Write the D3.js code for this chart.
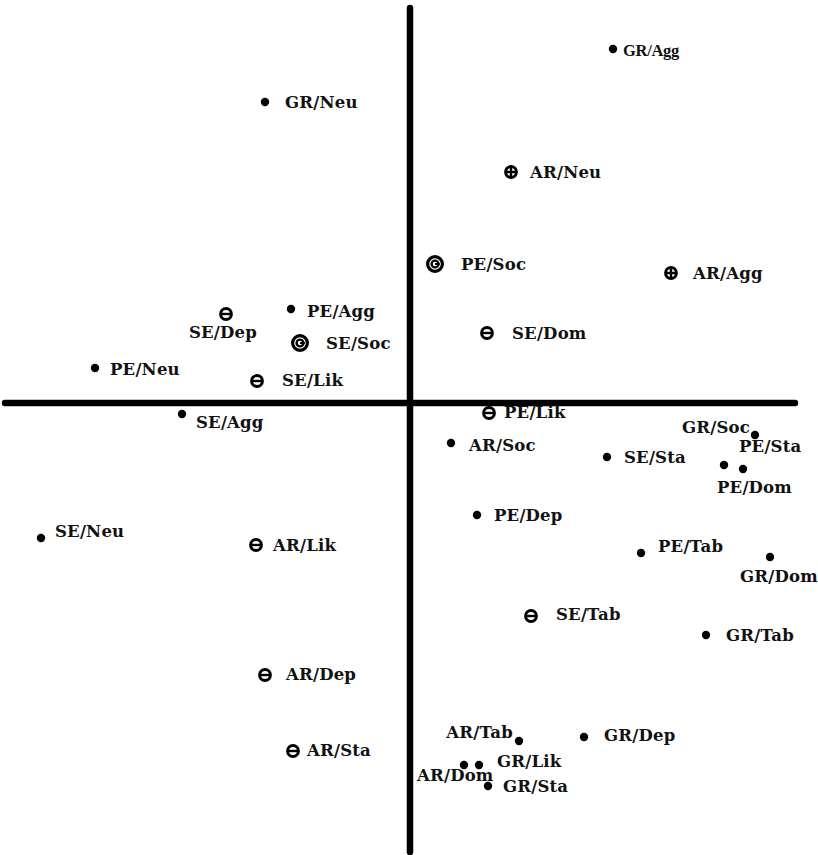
<!DOCTYPE html>
<html>
<head>
<meta charset="utf-8">
<script src="https://cdn.jsdelivr.net/npm/d3@7"></script>
<style>
  html, body { margin: 0; padding: 0; background: #fff; }
  svg { display: block; }
  text { font-family: "DejaVu Serif", "Liberation Serif", serif; font-weight: bold; fill: #111; }
</style>
</head>
<body>
<svg id="chart" width="818" height="855"></svg>
<script>
// ---- data ----
const names = ["GR/Agg","GR/Neu","AR/Neu","PE/Soc","AR/Agg","SE/Dep","PE/Agg","SE/Soc","SE/Dom","PE/Neu",
  "SE/Lik","SE/Agg","PE/Lik","AR/Soc","SE/Sta","GR/Soc","PE/Sta","PE/Dom","PE/Dep","PE/Tab",
  "GR/Dom","SE/Neu","AR/Lik","SE/Tab","GR/Tab","AR/Dep","GR/Dep","AR/Tab","AR/Sta","GR/Lik",
  "AR/Dom","GR/Sta"];
const xValues = [50.75,-36.25,25.25,6.25,65.25,-46,-29.75,-27.5,19.25,-78.75,
  -38.25,-57,19.75,10.25,49.25,86.25,83.25,78.5,16.75,57.75,
  90,-92.25,-38.5,30.25,74,-36.25,43.5,27.25,-29.25,17.25,
  13.5,19.5];
const yValues = [88.5,75.25,57.75,34.75,32.5,22.25,23.5,15,17.5,8.75,
  5.5,-2.75,-2.5,-10,-13.5,-8,-16.5,-15.5,-28,-37.5,
  -38.5,-33.75,-35.5,-53.25,-58,-68,-83.5,-84.5,-87,-90.5,
  -90.5,-95.75];
// marker kind: dot, minus (circled minus), plus (circled plus), ring (double circle)
const kinds = ["dot","dot","plus","ring","plus","minus","dot","ring","minus","dot",
  "minus","dot","minus","dot","dot","dot","dot","dot","dot","dot",
  "dot","dot","minus","minus","dot","minus","dot","dot","minus","dot",
  "dot","dot"];
const xAxisExtent = [-101.25, 96.25];
const yAxisExtent = [-112.25, 98.75];

// ---- label placement (px offsets from marker), kept separate from data ----
const labelPlace = {
  "GR/Agg": [10, 1, "start"], "GR/Neu": [20, 0, "start"], "AR/Neu": [19, 0, "start"],
  "PE/Soc": [26, 0, "start"], "AR/Agg": [22, 0, "start"], "SE/Dep": [-3, 18, "middle"],
  "PE/Agg": [16, 2, "start"], "SE/Soc": [26, 0, "start"], "SE/Dom": [25, 0, "start"],
  "PE/Neu": [15, 1, "start"], "SE/Lik": [25, -1, "start"], "SE/Agg": [14, 8, "start"],
  "PE/Lik": [15, -1, "start"], "AR/Soc": [18, 2, "start"], "SE/Sta": [17, 0, "start"],
  "GR/Soc": [-5, -8, "end"], "PE/Sta": [-4, -23, "start"], "PE/Dom": [-7, 22, "start"],
  "PE/Dep": [17, 0, "start"], "PE/Tab": [17, -7, "start"], "GR/Dom": [-30, 19, "start"],
  "SE/Neu": [14, -7, "start"], "AR/Lik": [17, 0, "start"], "SE/Tab": [25, -2, "start"],
  "GR/Tab": [20, 0, "start"], "AR/Dep": [21, -1, "start"], "GR/Dep": [20, -2, "start"],
  "AR/Tab": [-6, -9, "end"], "AR/Sta": [14, -1, "start"], "GR/Lik": [18, -4, "start"],
  "AR/Dom": [-47, 10, "start"], "GR/Sta": [15, 0, "start"]
};

const points = names.map((n, i) => ({ name: n, x: xValues[i], y: yValues[i], kind: kinds[i] }));

const svg = d3.select("#chart");
const x = d3.scaleLinear().domain([-100, 100]).range([10, 810]);
const y = d3.scaleLinear().domain([-115, 100]).range([863, 3]);

// axes (thick cross)
svg.append("line")
  .attr("x1", x(xAxisExtent[0])).attr("x2", x(xAxisExtent[1]))
  .attr("y1", y(0)).attr("y2", y(0))
  .attr("stroke", "#000").attr("stroke-width", 6.5).attr("stroke-linecap", "round");
svg.append("line")
  .attr("x1", x(0)).attr("x2", x(0))
  .attr("y1", y(yAxisExtent[0])).attr("y2", y(yAxisExtent[1]))
  .attr("stroke", "#000").attr("stroke-width", 6.5).attr("stroke-linecap", "round");

const g = svg.append("g");
const pt = g.selectAll("g.pt").data(points).join("g")
  .attr("class", "pt")
  .attr("transform", d => `translate(${x(d.x)},${y(d.y)})`);

pt.each(function(d) {
  const s = d3.select(this);
  if (d.kind === "dot") {
    s.append("circle").attr("r", 4.2).attr("fill", "#000");
  } else if (d.kind === "minus" || d.kind === "plus") {
    s.append("circle").attr("r", 5.4).attr("fill", "none").attr("stroke", "#000").attr("stroke-width", 3);
    s.append("line").attr("x1", -5).attr("x2", 5).attr("stroke", "#000").attr("stroke-width", 2.4);
    if (d.kind === "plus") s.append("line").attr("y1", -5).attr("y2", 5).attr("stroke", "#000").attr("stroke-width", 2.4);
  } else if (d.kind === "ring") {
    s.append("circle").attr("r", 7.4).attr("fill", "none").attr("stroke", "#000").attr("stroke-width", 3.2);
    s.append("circle").attr("r", 3.4).attr("fill", "none").attr("stroke", "#000").attr("stroke-width", 2.4);
    s.append("line").attr("x1", 0).attr("x2", 4.8).attr("stroke", "#000").attr("stroke-width", 2);
  }
  const p = labelPlace[d.name] || [15, 0, "start"];
  s.append("text")
    .attr("x", p[0]).attr("y", p[1])
    .attr("dy", "0.36em")
    .attr("text-anchor", p[2])
    .style("font-size", d.name === "GR/Agg" ? "16.5px" : "16.5px")
    .style("letter-spacing", d.name === "GR/Agg" ? "-0.3px" : "0.2px")
    .style("font-family", d.name === "GR/Agg" ? "'Liberation Serif', serif" : null)
    .text(d.name);
});
</script>
</body>
</html>
